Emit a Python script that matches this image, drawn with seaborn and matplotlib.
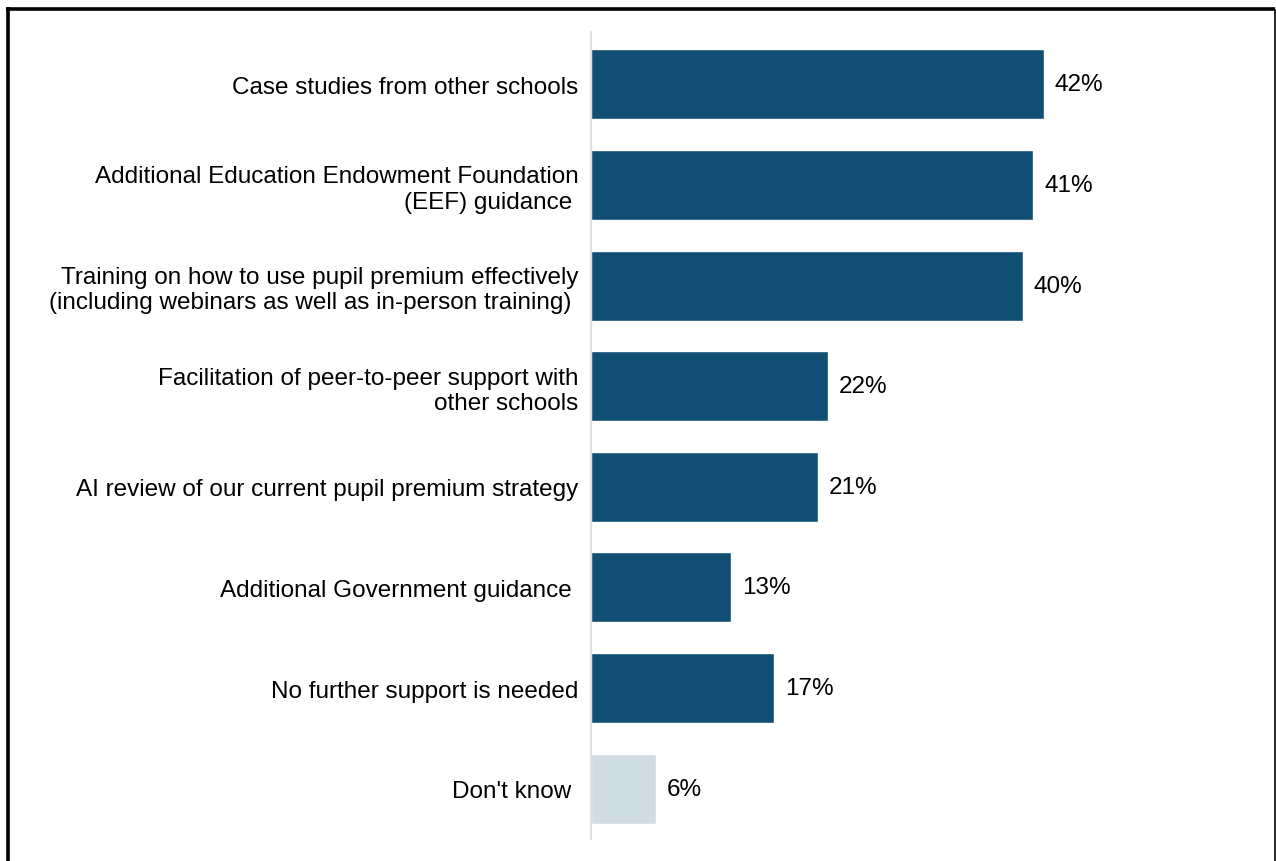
import matplotlib
matplotlib.use("Agg")
import matplotlib.pyplot as plt
import seaborn as sns
import pandas as pd
from matplotlib.lines import Line2D

categories = [
    "Case studies from other schools",
    "Additional Education Endowment Foundation\n(EEF) guidance ",
    "Training on how to use pupil premium effectively\n(including webinars as well as in-person training) ",
    "Facilitation of peer-to-peer support with\nother schools",
    "AI review of our current pupil premium strategy",
    "Additional Government guidance ",
    "No further support is needed",
    "Don't know ",
]
values = [42, 41, 40, 22, 21, 13, 17, 6]
groups = ["main"] * 7 + ["dk"]

palette = {"main": "#114f74", "dk": "#d0dde5"}

df = pd.DataFrame({"label": categories, "pct": values, "group": groups})

sns.set_theme(style="white")
plt.rcParams["font.family"] = ["Liberation Sans", "DejaVu Sans"]

fig = plt.figure(figsize=(12.76, 8.62), dpi=100)
W, H = 1276, 862
ax = fig.add_axes([591 / W, 1 - 840 / H, 660 / W, 807 / H])

sns.barplot(data=df, x="pct", y="label", hue="group", palette=palette,
            dodge=False, legend=False, width=0.695, saturation=1, ax=ax,
            orient="h")

ax.set_xlim(0, 660 / 10.79)
ax.set_ylim(7.5, -0.52)
ax.set_xlabel("")
ax.set_ylabel("")
ax.set_xticks([])
ax.tick_params(axis="y", length=0, pad=9, labelsize=17.5)
for t in ax.get_yticklabels():
    t.set_horizontalalignment("right")
    t.set_multialignment("right")
    t.set_linespacing(1.2)
    t.set_color("#000000")

for side in ["top", "right", "bottom"]:
    ax.spines[side].set_visible(False)
ax.spines["left"].set_color("#e0e0e0")
ax.spines["left"].set_linewidth(1.5)

for i, v in enumerate(values):
    ax.text(v + 1.0, i, f"{v}%", va="center", ha="left", fontsize=17.5, color="#000000")

# frame around the figure (open at the bottom)
fig.add_artist(Line2D([7.5 / W, 7.5 / W], [0, 1 - 8 / H], color="black", lw=2.6,
                      transform=fig.transFigure, solid_capstyle="butt"))
fig.add_artist(Line2D([6 / W, 1275 / W], [1 - 9.5 / H, 1 - 9.5 / H], color="black", lw=2.6,
                      transform=fig.transFigure, solid_capstyle="butt"))
fig.add_artist(Line2D([1274.5 / W, 1274.5 / W], [0, 1 - 9.5 / H], color="black", lw=1.2,
                      transform=fig.transFigure, solid_capstyle="butt"))

fig.savefig("out.png", dpi=100, facecolor="white")
